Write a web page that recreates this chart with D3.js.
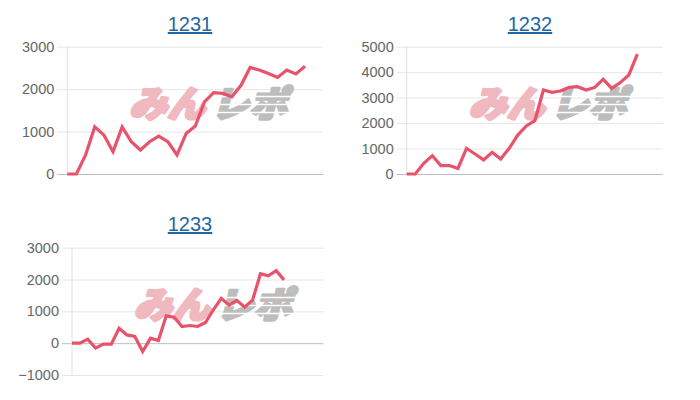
<!DOCTYPE html>
<html>
<head>
<meta charset="utf-8">
<script src="https://cdn.jsdelivr.net/npm/d3@7/dist/d3.min.js"></script>
<style>
  html, body { margin: 0; padding: 0; background: #fff; }
  svg { display: block; }
</style>
</head>
<body>
<svg id="chart" width="700" height="400"></svg>
<script>
// ---- data ----
const titles = ["1231", "1232", "1233"];

const days1 = ["1","2","3","4","5","6","7","8","9","10","11","12","13","14","15","16","17","18","19","20","21","22","23","24","25","26","27","28","29"];
const days2 = ["1","2","3","4","5","6","7","8","9","10","11","12","13","14","15","16","17","18","19","20","21","22","23","24","25","26","27","28","29","30","31"];
const days3 = ["1","2","3","4","5","6","7","8","9","10","11","12","13","14","15","16","17","18","19","20","21","22","23","24","25","26","27","28","29","30","31","32","33"];

const values1 = [0, 0, 450, 1110, 920, 525, 1110, 760, 565, 760, 895, 760, 450, 955, 1130, 1700, 1915, 1900, 1820, 2090, 2510, 2450, 2370, 2275, 2450, 2360, 2540];
const values2 = [0, 0, 420, 720, 330, 330, 220, 1010, 785, 555, 850, 590, 1010, 1530, 1885, 2095, 3300, 3205, 3260, 3400, 3430, 3300, 3400, 3720, 3365, 3590, 3890, 4710];
const values3 = [0, 0, 125, -155, -30, -30, 470, 260, 210, -260, 155, 85, 860, 815, 525, 555, 525, 650, 1050, 1410, 1195, 1340, 1130, 1360, 2180, 2115, 2280, 1990];

const ticks1 = [0, 1000, 2000, 3000];
const ticks2 = [0, 1000, 2000, 3000, 4000, 5000];
const ticks3 = [-1000, 0, 1000, 2000, 3000];

// ---- layout ----
const panels = [
  { title: titles[0], days: days1, values: values1, ticks: ticks1, left: 67.3, right: 323.3, top: 46.7, bottom: 174, titleX: 190, titleY: 31 },
  { title: titles[1], days: days2, values: values2, ticks: ticks2, left: 406.7, right: 663, top: 46.7, bottom: 174, titleX: 530, titleY: 31 },
  { title: titles[2], days: days3, values: values3, ticks: ticks3, left: 72, right: 323.3, top: 247.7, bottom: 375, titleX: 190, titleY: 231 }
];

const svg = d3.select("#chart");
const lineColor = "#e8536c";

panels.forEach(p => {
  const g = svg.append("g");
  const w = p.right - p.left;

  const x = d3.scalePoint().domain(p.days).range([p.left, p.right]);
  const y = d3.scaleLinear().domain(d3.extent(p.ticks)).range([p.bottom, p.top]);

  // title
  g.append("text")
    .attr("x", p.titleX).attr("y", p.titleY)
    .attr("text-anchor", "middle")
    .attr("font-family", "Liberation Sans, Arial, sans-serif")
    .attr("font-size", 20)
    .attr("fill", "#1f67a3")
    .attr("text-decoration", "underline")
    .text(p.title);

  // y axis with grid lines
  const axis = d3.axisLeft(y)
    .tickValues(p.ticks)
    .tickFormat(d3.format("d"))
    .tickSizeInner(-w)
    .tickSizeOuter(0)
    .tickPadding(13);

  const ag = g.append("g")
    .attr("transform", `translate(${p.left},0)`)
    .call(axis);
  ag.select(".domain").remove();
  ag.selectAll(".tick line")
    .attr("x1", -10)
    .attr("stroke", d => d === 0 ? "#bdbdbd" : "#e6e6e6")
    .attr("stroke-width", 1);
  ag.selectAll(".tick text")
    .attr("font-family", "Liberation Sans, Arial, sans-serif")
    .attr("font-size", 14.5)
    .attr("fill", "#666");

  // vertical axis line
  g.append("line")
    .attr("x1", p.left).attr("x2", p.left)
    .attr("y1", p.top).attr("y2", p.bottom)
    .attr("stroke", "#e0e0e0");

  // watermark
  const wm = g.append("g")
    .attr("transform", `translate(${p.left + 62},${p.top + 70}) skewX(-14)`);
  wm.append("text")
    .attr("x", 0).attr("y", 0)
    .attr("font-family", "Noto Sans CJK JP, sans-serif")
    .attr("font-weight", 900)
    .attr("font-size", 36)
    .attr("fill", "#f0b8bf")
    .attr("stroke", "#f0b8bf")
    .attr("stroke-width", 3)
    .attr("stroke-linejoin", "round")
    .attr("textLength", 76)
    .attr("lengthAdjust", "spacingAndGlyphs")
    .text("みん");
  wm.append("text")
    .attr("x", 82).attr("y", 0)
    .attr("font-family", "Noto Sans CJK JP, sans-serif")
    .attr("font-weight", 900)
    .attr("font-size", 36)
    .attr("fill", "#bdbdbd")
    .attr("stroke", "#bdbdbd")
    .attr("stroke-width", 3)
    .attr("stroke-linejoin", "round")
    .attr("textLength", 76)
    .attr("lengthAdjust", "spacingAndGlyphs")
    .text("レポ");
  // speed stripes across the gray part
  [-21, -13, -5].forEach(dy => {
    wm.append("rect")
      .attr("x", 78).attr("y", dy)
      .attr("width", 88).attr("height", 1.5)
      .attr("fill", "#fff");
  });

  // line
  const line = d3.line()
    .x((d, i) => x(p.days[i]))
    .y(d => y(d));
  g.append("path")
    .datum(p.values)
    .attr("fill", "none")
    .attr("stroke", lineColor)
    .attr("stroke-width", 3.2)
    .attr("d", line);
});
</script>
</body>
</html>
